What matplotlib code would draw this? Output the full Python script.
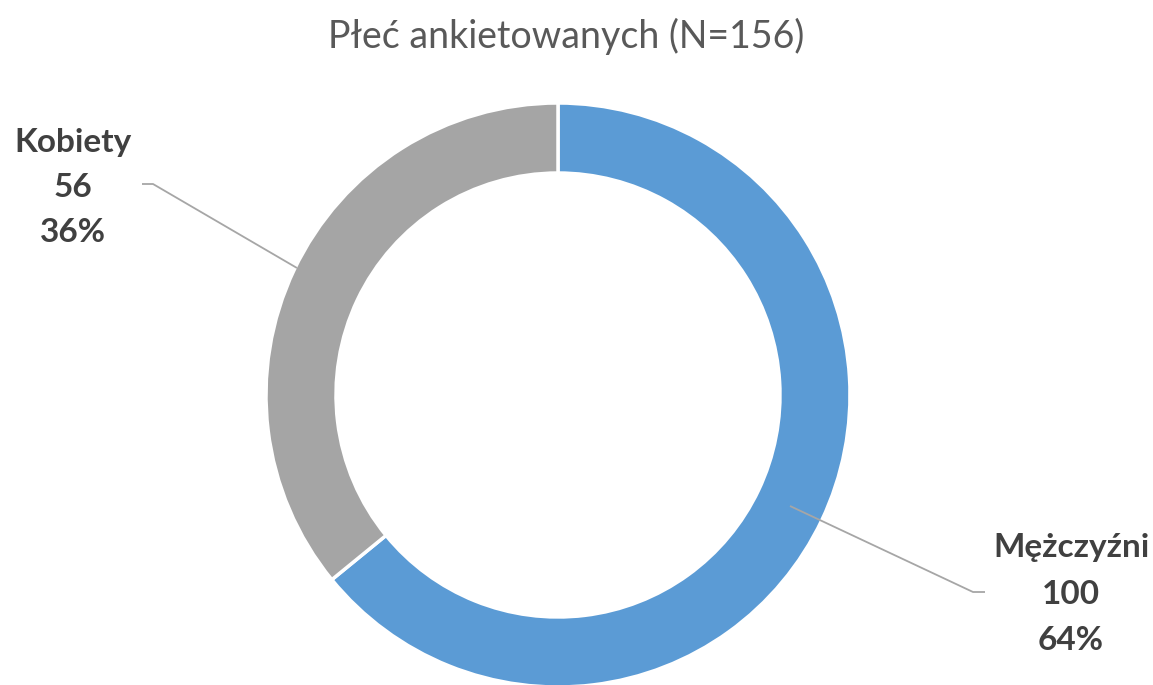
import matplotlib.pyplot as plt

# Data
labels = ['Mężczyźni', 'Kobiety']
counts = [100, 56]
colors = ['#5B9BD5', '#A5A5A5']
title = 'Płeć ankietowanych (N=156)'

W, H = 1153, 685
FONT = ['Lato', 'DejaVu Sans']

fig = plt.figure(figsize=(W / 100, H / 100), dpi=100)
ax = fig.add_axes([0, 0, 1, 1])
ax.set_xlim(0, W)
ax.set_ylim(0, H)
ax.set_aspect('equal')
ax.axis('off')


def Y(y):
    # image pixel row -> data y
    return H - y


cx, cy = 558, Y(395)
R = 292
ax.pie(counts, colors=colors, startangle=90, counterclock=False,
       center=(cx, cy), radius=R,
       wedgeprops=dict(width=70, edgecolor='white', linewidth=2.5))
ax.set_xlim(0, W)
ax.set_ylim(0, H)

# Title
fig.text(566 / W, 1 - 36 / H, title, ha='center', va='center',
         fontsize=27, color='#595959', family=FONT)

total = sum(counts)
label_pos = {'Mężczyźni': (1071, [548, 595, 640]),
             'Kobiety': (73, [142, 187, 232])}
for name, n in zip(labels, counts):
    x, ys = label_pos[name]
    lines = [name, str(n), f'{round(100 * n / total)}%']
    for txt, y in zip(lines, ys):
        ax.text(x, Y(y), txt, ha='center', va='center', fontsize=24,
                fontweight='bold', color='#404040', family=FONT)

# Leader lines
line_kw = dict(color='#A6A6A6', linewidth=1.3, solid_capstyle='butt')
ax.plot([142, 153, 297], [Y(184), Y(184), Y(268)], **line_kw)
ax.plot([790, 973, 985], [Y(506), Y(592), Y(592)], **line_kw)

fig.savefig('out.png', dpi=100)
